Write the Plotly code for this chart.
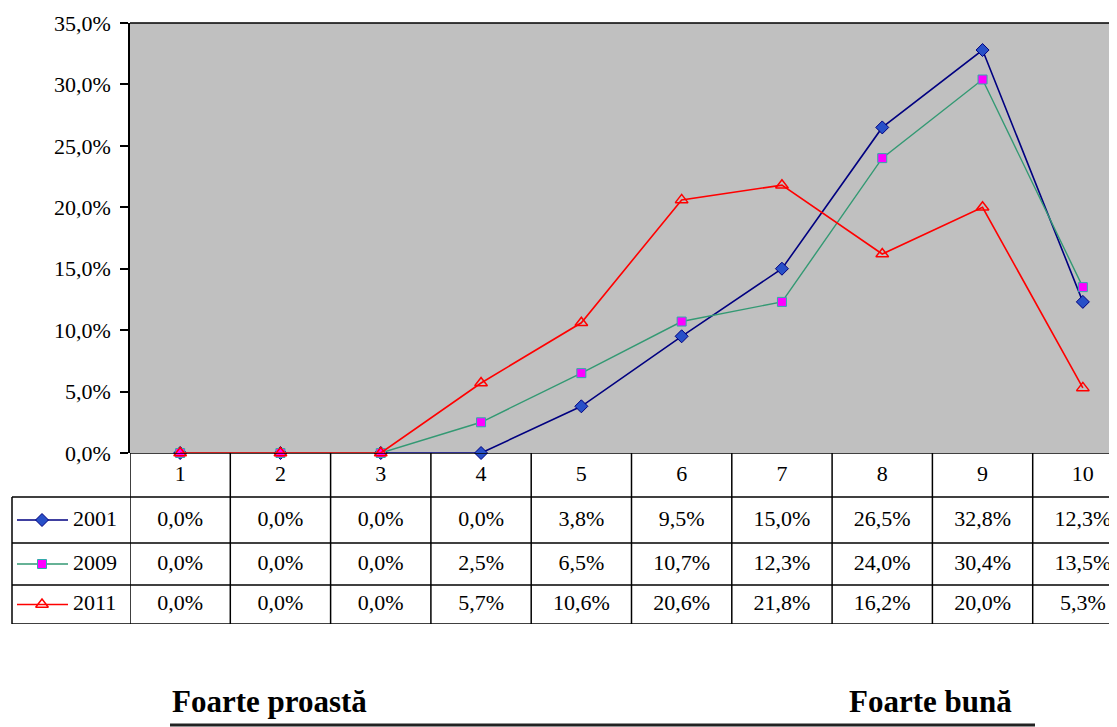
import plotly.graph_objects as go

# ---- data ----
categories = [1, 2, 3, 4, 5, 6, 7, 8, 9, 10]
series_names = ["2001", "2009", "2011"]
v2001 = [0.0, 0.0, 0.0, 0.0, 3.8, 9.5, 15.0, 26.5, 32.8, 12.3]
v2009 = [0.0, 0.0, 0.0, 2.5, 6.5, 10.7, 12.3, 24.0, 30.4, 13.5]
v2011 = [0.0, 0.0, 0.0, 5.7, 10.6, 20.6, 21.8, 16.2, 20.0, 5.3]
y_ticks = [0, 5, 10, 15, 20, 25, 30, 35]
label_left = "Foarte proastă"
label_right = "Foarte bună"

series_values = [v2001, v2009, v2011]


def pct(v):
    return f"{v:.1f}".replace(".", ",") + "%"


styles = [
    dict(line=dict(color="#000080", width=1.6),
         marker=dict(symbol="diamond", size=10, color="#2850C8",
                     line=dict(color="#000080", width=1))),
    dict(line=dict(color="#339973", width=1.4),
         marker=dict(symbol="square", size=9, color="#FF00FF",
                     line=dict(color="#33AAAA", width=1))),
    dict(line=dict(color="#FF0000", width=1.6),
         marker=dict(symbol="triangle-up-open", size=11, color="#FF0000",
                     line=dict(color="#FF0000", width=1.5))),
]

# layout (pixel positions of the reference; the page body adds an 8px margin)
OFF = 8
W, H = 1117 - OFF, 727 - OFF
ML = 12 - OFF
MT = 23 - OFF
TABLE_BOTTOM = 624 - OFF
MB = H - TABLE_BOTTOM
plot_h = H - MT - MB
split = (TABLE_BOTTOM - (453 - OFF)) / plot_h
x_dom0 = (130 - 12) / (W - ML)
row_edges = [0, 44, 90, 132, 171]   # table row boundaries, px below the x axis


def px_x(x):
    return (x - OFF - ML) / (W - ML)


def px_y(y):
    return (TABLE_BOTTOM - (y - OFF)) / plot_h


row_mid = [(a + b) / 2 for a, b in zip(row_edges[:-1], row_edges[1:])]

FONT = "Liberation Serif"
FS = 22
fig = go.Figure()

for name, vals, st in zip(series_names, series_values, styles):
    fig.add_trace(go.Scatter(x=categories, y=vals, name=name, mode="lines+markers",
                             line=st["line"], marker=st["marker"],
                             xaxis="x", yaxis="y", showlegend=False, cliponaxis=False))

fig.add_trace(go.Scatter(x=categories, y=[row_mid[0]] * len(categories), mode="text",
                         text=[str(c) for c in categories],
                         textfont=dict(family=FONT, size=FS, color="black"),
                         xaxis="x", yaxis="y2", showlegend=False, hoverinfo="skip"))
for i, vals in enumerate(series_values):
    fig.add_trace(go.Scatter(x=categories, y=[row_mid[i + 1]] * len(categories), mode="text",
                             text=[pct(v) for v in vals],
                             textfont=dict(family=FONT, size=FS, color="black"),
                             xaxis="x", yaxis="y2", showlegend=False, hoverinfo="skip"))

for i, (name, st) in enumerate(zip(series_names, styles)):
    ym = row_mid[i + 1]
    fig.add_trace(go.Scatter(x=[5, 30, 56], y=[ym] * 3, mode="lines",
                             line=st["line"], xaxis="x2", yaxis="y2",
                             showlegend=False, hoverinfo="skip"))
    fig.add_trace(go.Scatter(x=[30], y=[ym], mode="markers",
                             marker=st["marker"], xaxis="x2", yaxis="y2",
                             showlegend=False, hoverinfo="skip"))
    fig.add_trace(go.Scatter(x=[61], y=[ym], mode="text", text=[name],
                             textposition="middle right",
                             textfont=dict(family=FONT, size=FS, color="black"),
                             xaxis="x2", yaxis="y2", showlegend=False, hoverinfo="skip"))

shapes = []
shapes.append(dict(type="rect", xref="x domain", yref="y domain", x0=0, x1=1, y0=0, y1=1,
                   fillcolor="#C0C0C0", line=dict(width=0), layer="below"))
shapes.append(dict(type="line", xref="x domain", yref="y domain", x0=0, x1=1, y0=1, y1=1,
                   line=dict(color="black", width=1.5)))
shapes.append(dict(type="line", xref="paper", yref="y2", x0=x_dom0, x1=1,
                   y0=row_edges[0], y1=row_edges[0], line=dict(color="black", width=1.5)))
for r in row_edges[1:]:
    shapes.append(dict(type="line", xref="paper", yref="y2", x0=0, x1=1, y0=r, y1=r,
                       line=dict(color="black", width=1.5)))
for c in categories:
    shapes.append(dict(type="line", xref="x", yref="y2", x0=c - 0.5, x1=c - 0.5,
                       y0=row_edges[0], y1=row_edges[-1],
                       line=dict(color="black", width=1.5)))
shapes.append(dict(type="line", xref="paper", yref="y2", x0=0, x1=0,
                   y0=row_edges[1], y1=row_edges[-1], line=dict(color="black", width=1.5)))
line_y = px_y(725)
shapes.append(dict(type="line", xref="paper", yref="paper",
                   x0=px_x(170), x1=px_x(1035), y0=line_y, y1=line_y,
                   line=dict(color="#222222", width=3)))

annotations = [
    dict(text=f"<b>{label_left}</b>", xref="paper", yref="paper",
         x=px_x(170), y=px_y(721), xanchor="left", yanchor="bottom",
         showarrow=False, font=dict(family=FONT, size=31, color="black")),
    dict(text=f"<b>{label_right}</b>", xref="paper", yref="paper",
         x=px_x(1014), y=px_y(721), xanchor="right", yanchor="bottom",
         showarrow=False, font=dict(family=FONT, size=31, color="black")),
]

fig.update_layout(
    width=W, height=H,
    margin=dict(l=ML, r=0, t=MT, b=MB),
    paper_bgcolor="white", plot_bgcolor="rgba(0,0,0,0)",
    xaxis=dict(domain=[x_dom0, 1], range=[0.5, 0.5 + (1117 - 130) / 100.3],
               showgrid=False, zeroline=False,
               showticklabels=False, ticks="", showline=False, anchor="y"),
    yaxis=dict(domain=[split, 1], range=[0, 35], tickvals=y_ticks,
               ticktext=[pct(v) for v in y_ticks],
               ticks="outside", ticklen=8, tickwidth=1.5, tickcolor="black",
               ticklabelstandoff=5,
               showline=True, linecolor="black", linewidth=1.5, showgrid=False,
               zeroline=False, anchor="x",
               tickfont=dict(family=FONT, size=FS, color="black")),
    yaxis2=dict(domain=[0, split], range=[row_edges[-1], row_edges[0]],
                visible=False, anchor="x"),
    xaxis2=dict(domain=[0, x_dom0], range=[0, 118], visible=False, anchor="y2"),
    shapes=shapes, annotations=annotations,
    showlegend=False,
)

fig.write_html("out.html")
